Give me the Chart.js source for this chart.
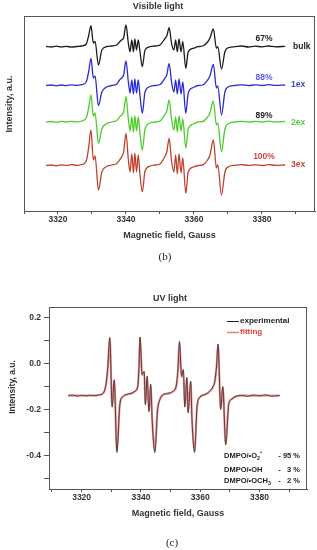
<!DOCTYPE html>
<html>
<head>
<meta charset="utf-8">
<script src="https://cdn.jsdelivr.net/npm/chart.js@4.4.1/dist/chart.umd.min.js"></script>
<style>
  html, body { margin: 0; padding: 0; background: #fff; }
  #wrap { position: relative; width: 317px; height: 550px; overflow: hidden; }
  canvas { position: absolute; left: 0; }
</style>
</head>
<body>
<div id="wrap">
  <canvas id="vis" width="317" height="265" style="top:0"></canvas>
  <canvas id="uv" width="317" height="285" style="top:265px"></canvas>
</div>
<script>
// ---- data ----
// (b) visible light, stacked spectra (arbitrary units, already offset)
const visFields = [3316.5, 3318.0, 3319.5, 3321.0, 3322.5, 3324.0, 3325.5, 3327.0, 3328.3, 3329.0,
  3329.7, 3330.4, 3330.9, 3331.9, 3332.9, 3334.3, 3335.8, 3337.3, 3338.1, 3338.7,
  3339.3, 3340.0, 3340.7, 3341.2, 3341.7, 3342.2, 3342.6, 3343.1, 3343.6, 3344.1,
  3344.8, 3345.6, 3347.1, 3348.6, 3350.0, 3351.5, 3352.0, 3352.7, 3353.4, 3354.1,
  3354.6, 3355.1, 3355.6, 3356.2, 3356.7, 3357.6, 3358.3, 3359.8, 3361.2, 3362.6,
  3364.0, 3364.7, 3365.7, 3366.6, 3367.0, 3368.1, 3369.1, 3370.3, 3372.0, 3374.0,
  3376.0, 3378.0, 3380.0, 3382.0, 3384.0, 3386.8];

const bulk = [16.45, 16.40, 16.48, 16.40, 16.46, 16.39, 16.45, 16.50, 16.70, 17.50,
  18.53, 16.80, 16.95, 14.60, 16.10, 16.43, 16.50, 16.60, 16.90, 17.10,
  17.30, 18.60, 16.77, 15.93, 17.10, 15.93, 17.20, 16.10, 17.10, 16.00,
  14.43, 16.10, 16.43, 16.50, 16.60, 17.27, 17.50, 18.33, 16.77, 16.10,
  17.10, 15.93, 17.20, 15.93, 16.93, 14.27, 15.93, 16.27, 16.43, 16.50,
  16.90, 17.30, 18.20, 16.27, 16.43, 14.20, 15.93, 16.35, 16.43, 16.50,
  16.40, 16.48, 16.42, 16.50, 16.42, 16.47];

const ex1 = [12.55, 12.60, 12.52, 12.60, 12.54, 12.62, 12.56, 12.64, 12.90, 13.90,
  15.27, 13.30, 13.50, 10.53, 11.90, 12.40, 12.55, 12.70, 13.10, 13.30,
  13.60, 15.00, 12.90, 11.80, 13.10, 11.70, 13.20, 11.80, 13.10, 11.60,
  9.77, 11.90, 12.45, 12.55, 12.65, 13.30, 13.60, 14.77, 12.90, 11.90,
  13.10, 11.70, 13.20, 11.70, 12.90, 9.77, 11.80, 12.35, 12.55, 12.60,
  13.10, 13.50, 14.67, 12.30, 12.50, 9.60, 11.90, 12.45, 12.55, 12.62,
  12.54, 12.61, 12.55, 12.63, 12.56, 12.60];

const ex2 = [8.90, 8.95, 8.88, 8.96, 8.90, 8.97, 8.91, 9.00, 9.30, 10.30,
  11.60, 9.50, 9.80, 6.77, 8.20, 8.75, 8.90, 9.05, 9.40, 9.60,
  9.90, 11.43, 9.20, 8.00, 9.40, 7.90, 9.50, 8.00, 9.40, 7.80,
  6.10, 8.20, 8.80, 8.90, 9.00, 9.70, 10.00, 11.10, 9.20, 8.10,
  9.40, 7.90, 9.50, 8.00, 9.20, 6.27, 8.20, 8.70, 8.90, 8.95,
  9.40, 9.80, 11.00, 8.60, 8.80, 5.93, 8.20, 8.75, 8.90, 8.97,
  8.89, 8.96, 8.90, 8.98, 8.91, 8.95];

const ex3 = [4.55, 4.60, 4.52, 4.61, 4.56, 4.63, 4.57, 4.65, 5.00, 6.30,
  8.10, 5.10, 5.50, 2.10, 3.90, 4.45, 4.60, 4.75, 5.10, 5.40,
  5.90, 7.77, 5.10, 3.90, 5.70, 3.80, 5.80, 3.90, 5.60, 3.70,
  1.93, 4.00, 4.50, 4.60, 4.70, 5.50, 5.90, 7.27, 5.00, 3.90,
  5.60, 3.70, 5.70, 3.80, 5.30, 1.77, 3.90, 4.40, 4.55, 4.62,
  5.10, 5.60, 7.10, 4.30, 4.60, 1.60, 3.90, 4.45, 4.57, 4.64,
  4.56, 4.62, 4.55, 4.63, 4.57, 4.60];

// (c) UV light
const uvFields = [3315.5, 3317.0, 3318.5, 3320.0, 3321.5, 3323.0, 3324.5, 3326.0, 3327.3, 3328.2,
  3328.8, 3329.5, 3330.3, 3331.0, 3331.9, 3332.9, 3334.0, 3335.7, 3337.0, 3338.0,
  3338.9, 3339.3, 3339.7, 3340.4, 3341.1, 3341.5, 3342.1, 3342.7, 3343.3, 3343.8,
  3344.7, 3345.6, 3346.4, 3347.5, 3349.0, 3350.8, 3352.0, 3352.5, 3353.0, 3353.7,
  3354.3, 3354.8, 3355.5, 3355.9, 3356.8, 3357.2, 3358.1, 3358.9, 3359.8, 3361.5,
  3363.2, 3364.3, 3364.9, 3365.5, 3366.0, 3366.9, 3367.6, 3368.6, 3369.6, 3370.5,
  3372.2, 3374.0, 3376.0, 3378.0, 3380.0, 3382.0, 3384.0, 3386.8];

const experimental = [-0.140, -0.137, -0.142, -0.138, -0.141, -0.137, -0.140, -0.136, -0.128, -0.090,
  -0.020, 0.115, -0.190, -0.070, -0.388, -0.178, -0.142, -0.132, -0.128, -0.120,
  -0.100, -0.030, 0.117, -0.048, -0.033, -0.180, -0.055, -0.210, -0.090, -0.250,
  -0.388, -0.207, -0.157, -0.135, -0.130, -0.120, -0.090, -0.020, 0.097, -0.055,
  -0.026, -0.190, -0.060, -0.215, -0.077, -0.240, -0.388, -0.193, -0.148, -0.135,
  -0.120, -0.100, -0.077, -0.010, 0.086, -0.200, -0.100, -0.355, -0.178, -0.157,
  -0.142, -0.138, -0.143, -0.137, -0.141, -0.136, -0.142, -0.139];

const fitting = [-0.140, -0.140, -0.140, -0.140, -0.140, -0.140, -0.139, -0.137, -0.130, -0.095,
  -0.025, 0.110, -0.185, -0.075, -0.380, -0.175, -0.143, -0.134, -0.129, -0.121,
  -0.102, -0.035, 0.112, -0.050, -0.038, -0.175, -0.058, -0.205, -0.092, -0.245,
  -0.380, -0.200, -0.155, -0.136, -0.131, -0.122, -0.093, -0.025, 0.093, -0.058,
  -0.030, -0.185, -0.063, -0.210, -0.080, -0.235, -0.380, -0.190, -0.147, -0.136,
  -0.122, -0.103, -0.080, -0.015, 0.082, -0.195, -0.103, -0.350, -0.175, -0.155,
  -0.142, -0.140, -0.140, -0.140, -0.140, -0.140, -0.140, -0.140];

const fieldTicks = [3310, 3320, 3330, 3340, 3350, 3360, 3370, 3380, 3390];
const uvIntensityTicks = [-0.5, -0.4, -0.3, -0.2, -0.1, 0, 0.1, 0.2];

// ---- drawing ----
const FONT = "'Liberation Sans', Arial, sans-serif";
const SERIF = "'Liberation Serif', 'Times New Roman', serif";
const AXIS = '#555';

function pts(xs, ys) {
  return xs.map((x, i) => ({ x, y: ys[i] }));
}

function txt(ctx, s, x, y, o = {}) {
  ctx.save();
  ctx.font = `${o.weight || 'bold'} ${o.size || 8.5}px ${o.family || FONT}`;
  ctx.fillStyle = o.color || '#222';
  ctx.textAlign = o.align || 'left';
  ctx.textBaseline = 'middle';
  if (o.rotate) {
    ctx.translate(x, y);
    ctx.rotate(o.rotate);
    ctx.fillText(s, 0, 0);
  } else {
    ctx.fillText(s, x, y);
  }
  ctx.restore();
}

// draws text pieces with optional sub/superscripts
function chem(ctx, parts, x, y, size) {
  ctx.save();
  ctx.fillStyle = '#222';
  ctx.textBaseline = 'middle';
  ctx.textAlign = 'left';
  for (const p of parts) {
    const sz = p.sub || p.sup ? size * 0.7 : size;
    ctx.font = `bold ${sz}px ${FONT}`;
    const dy = p.sub ? size * 0.3 : p.sup ? -size * 0.4 : 0;
    ctx.fillText(p.t, x, y + dy);
    x += ctx.measureText(p.t).width;
  }
  ctx.restore();
}

function frame(chart) {
  const { ctx, chartArea: a } = chart;
  ctx.save();
  ctx.strokeStyle = AXIS;
  ctx.lineWidth = 1;
  ctx.strokeRect(a.left + 0.5, a.top + 0.5, a.right - a.left - 1, a.bottom - a.top);
  ctx.restore();
}

function fieldAxis(height, titlePad) {
  return {
    type: 'linear',
    afterBuildTicks: s => { s.ticks = fieldTicks.map(v => ({ value: v })); },
    afterFit: s => { s.height = height; },
    ticks: {
      autoSkip: false, maxRotation: 0, padding: 1,
      color: '#333', font: { size: 8.5, weight: 'bold' },
      callback: v => (v % 20 === 0 ? String(v) : '')
    },
    grid: { display: true, drawOnChartArea: false, tickLength: 3, color: AXIS },
    border: { display: true, color: AXIS },
    title: {
      display: true, text: 'Magnetic field, Gauss', color: '#333',
      font: { size: 9, weight: 'bold' }, padding: { top: 0, bottom: titlePad }
    }
  };
}

Chart.defaults.font.family = FONT;
Chart.defaults.color = '#333';

const line = (label, xs, ys, color, width) => ({
  label, data: pts(xs, ys), borderColor: color, borderWidth: width,
  pointRadius: 0, cubicInterpolationMode: 'monotone', fill: false
});

// (b)
new Chart(document.getElementById('vis'), {
  type: 'line',
  data: {
    datasets: [
      line('bulk', visFields, bulk, '#1c1c1c', 1.3),
      line('1ex', visFields, ex1, '#2a2ad4', 1.3),
      line('2ex', visFields, ex2, '#4ccc2c', 1.3),
      line('3ex', visFields, ex3, '#c0402e', 1.3)
    ]
  },
  options: {
    responsive: false, animation: false,
    layout: { padding: { left: 0, top: 16, right: 2, bottom: 0 } },
    plugins: { legend: { display: false }, tooltip: { enabled: false } },
    scales: {
      x: Object.assign(fieldAxis(54, 23.6), { min: 3310, max: 3395.6 }),
      y: {
        min: 0, max: 19.5,
        afterFit: s => { s.width = 24; },
        ticks: { display: false },
        grid: { display: false },
        border: { display: true, color: AXIS }
      }
    }
  },
  plugins: [{
    id: 'visText',
    afterDraw(chart) {
      const ctx = chart.ctx;
      frame(chart);
      txt(ctx, 'Visible light', 158, 6.5, { size: 9, color: '#333', align: 'center' });
      txt(ctx, 'Intensity, a.u.', 10, 104, { size: 9, color: '#333', align: 'center', rotate: -Math.PI / 2 });
      txt(ctx, '67%', 264, 39, { color: '#222', align: 'center' });
      txt(ctx, 'bulk', 293, 46.5, { color: '#222' });
      txt(ctx, '88%', 264, 78, { color: '#5a5af0', align: 'center' });
      txt(ctx, '1ex', 291, 85, { color: '#4444cc' });
      txt(ctx, '89%', 264, 116, { color: '#222', align: 'center' });
      txt(ctx, '2ex', 291, 123, { color: '#55cc44' });
      txt(ctx, '100%', 264, 157, { color: '#d0483a', align: 'center' });
      txt(ctx, '3ex', 291, 165, { color: '#d0483a' });
      txt(ctx, '(b)', 165, 257, { size: 11, weight: 'normal', family: SERIF, color: '#222', align: 'center' });
    }
  }]
});

// (c)
new Chart(document.getElementById('uv'), {
  type: 'line',
  data: {
    datasets: [
      line('experimental', uvFields, experimental, '#4a3030', 0.9),
      line('fitting', uvFields, fitting, 'rgba(225,80,80,0.6)', 2.2)
    ]
  },
  options: {
    responsive: false, animation: false,
    layout: { padding: { left: 0, top: 42, right: 10, bottom: 0 } },
    plugins: { legend: { display: false }, tooltip: { enabled: false } },
    scales: {
      x: Object.assign(fieldAxis(61, 31.5), { min: 3309, max: 3396 }),
      y: {
        min: -0.548, max: 0.248,
        afterBuildTicks: s => { s.ticks = uvIntensityTicks.map(v => ({ value: v })); },
        afterFit: s => { s.width = 49; },
        ticks: {
          autoSkip: false, padding: 3, color: '#333', font: { size: 8.5, weight: 'bold' },
          callback: v => (Math.round(v * 10) % 2 === 0 ? v.toFixed(1) : '')
        },
        grid: { display: true, drawOnChartArea: false, tickLength: 5, color: AXIS },
        border: { display: true, color: AXIS }
      }
    }
  },
  plugins: [{
    id: 'uvText',
    afterDraw(chart) {
      const ctx = chart.ctx;
      frame(chart);
      txt(ctx, 'UV light', 170, 34, { size: 9, color: '#333', align: 'center' });
      txt(ctx, 'Intensity, a.u.', 13, 122, { size: 8.5, color: '#333', align: 'center', rotate: -Math.PI / 2 });
      // legend
      ctx.save();
      ctx.lineWidth = 1;
      ctx.strokeStyle = '#222';
      ctx.beginPath(); ctx.moveTo(227, 56.5); ctx.lineTo(239, 56.5); ctx.stroke();
      ctx.strokeStyle = 'rgba(225,95,95,0.8)';
      ctx.lineWidth = 1.5;
      ctx.beginPath(); ctx.moveTo(227, 67.5); ctx.lineTo(239, 67.5); ctx.stroke();
      ctx.restore();
      txt(ctx, 'experimental', 240, 56, { size: 8, color: '#222' });
      txt(ctx, 'fitting', 240, 67, { size: 8, color: '#e04040' });
      // composition
      chem(ctx, [{ t: 'DMPO/•O' }, { t: '2', sub: true }, { t: '•', sup: true }], 224, 191, 7.5);
      chem(ctx, [{ t: 'DMPO/•OH' }], 224, 205, 7.5);
      chem(ctx, [{ t: 'DMPO/•OCH' }, { t: '3', sub: true }], 224, 216, 7.5);
      txt(ctx, '- 95 %', 300, 191, { size: 7.5, align: 'right' });
      txt(ctx, '-   3 %', 300, 205, { size: 7.5, align: 'right' });
      txt(ctx, '-   2 %', 300, 216, { size: 7.5, align: 'right' });
      txt(ctx, '(c)', 172, 278, { size: 11, weight: 'normal', family: SERIF, color: '#222', align: 'center' });
    }
  }]
});
</script>
</body>
</html>
